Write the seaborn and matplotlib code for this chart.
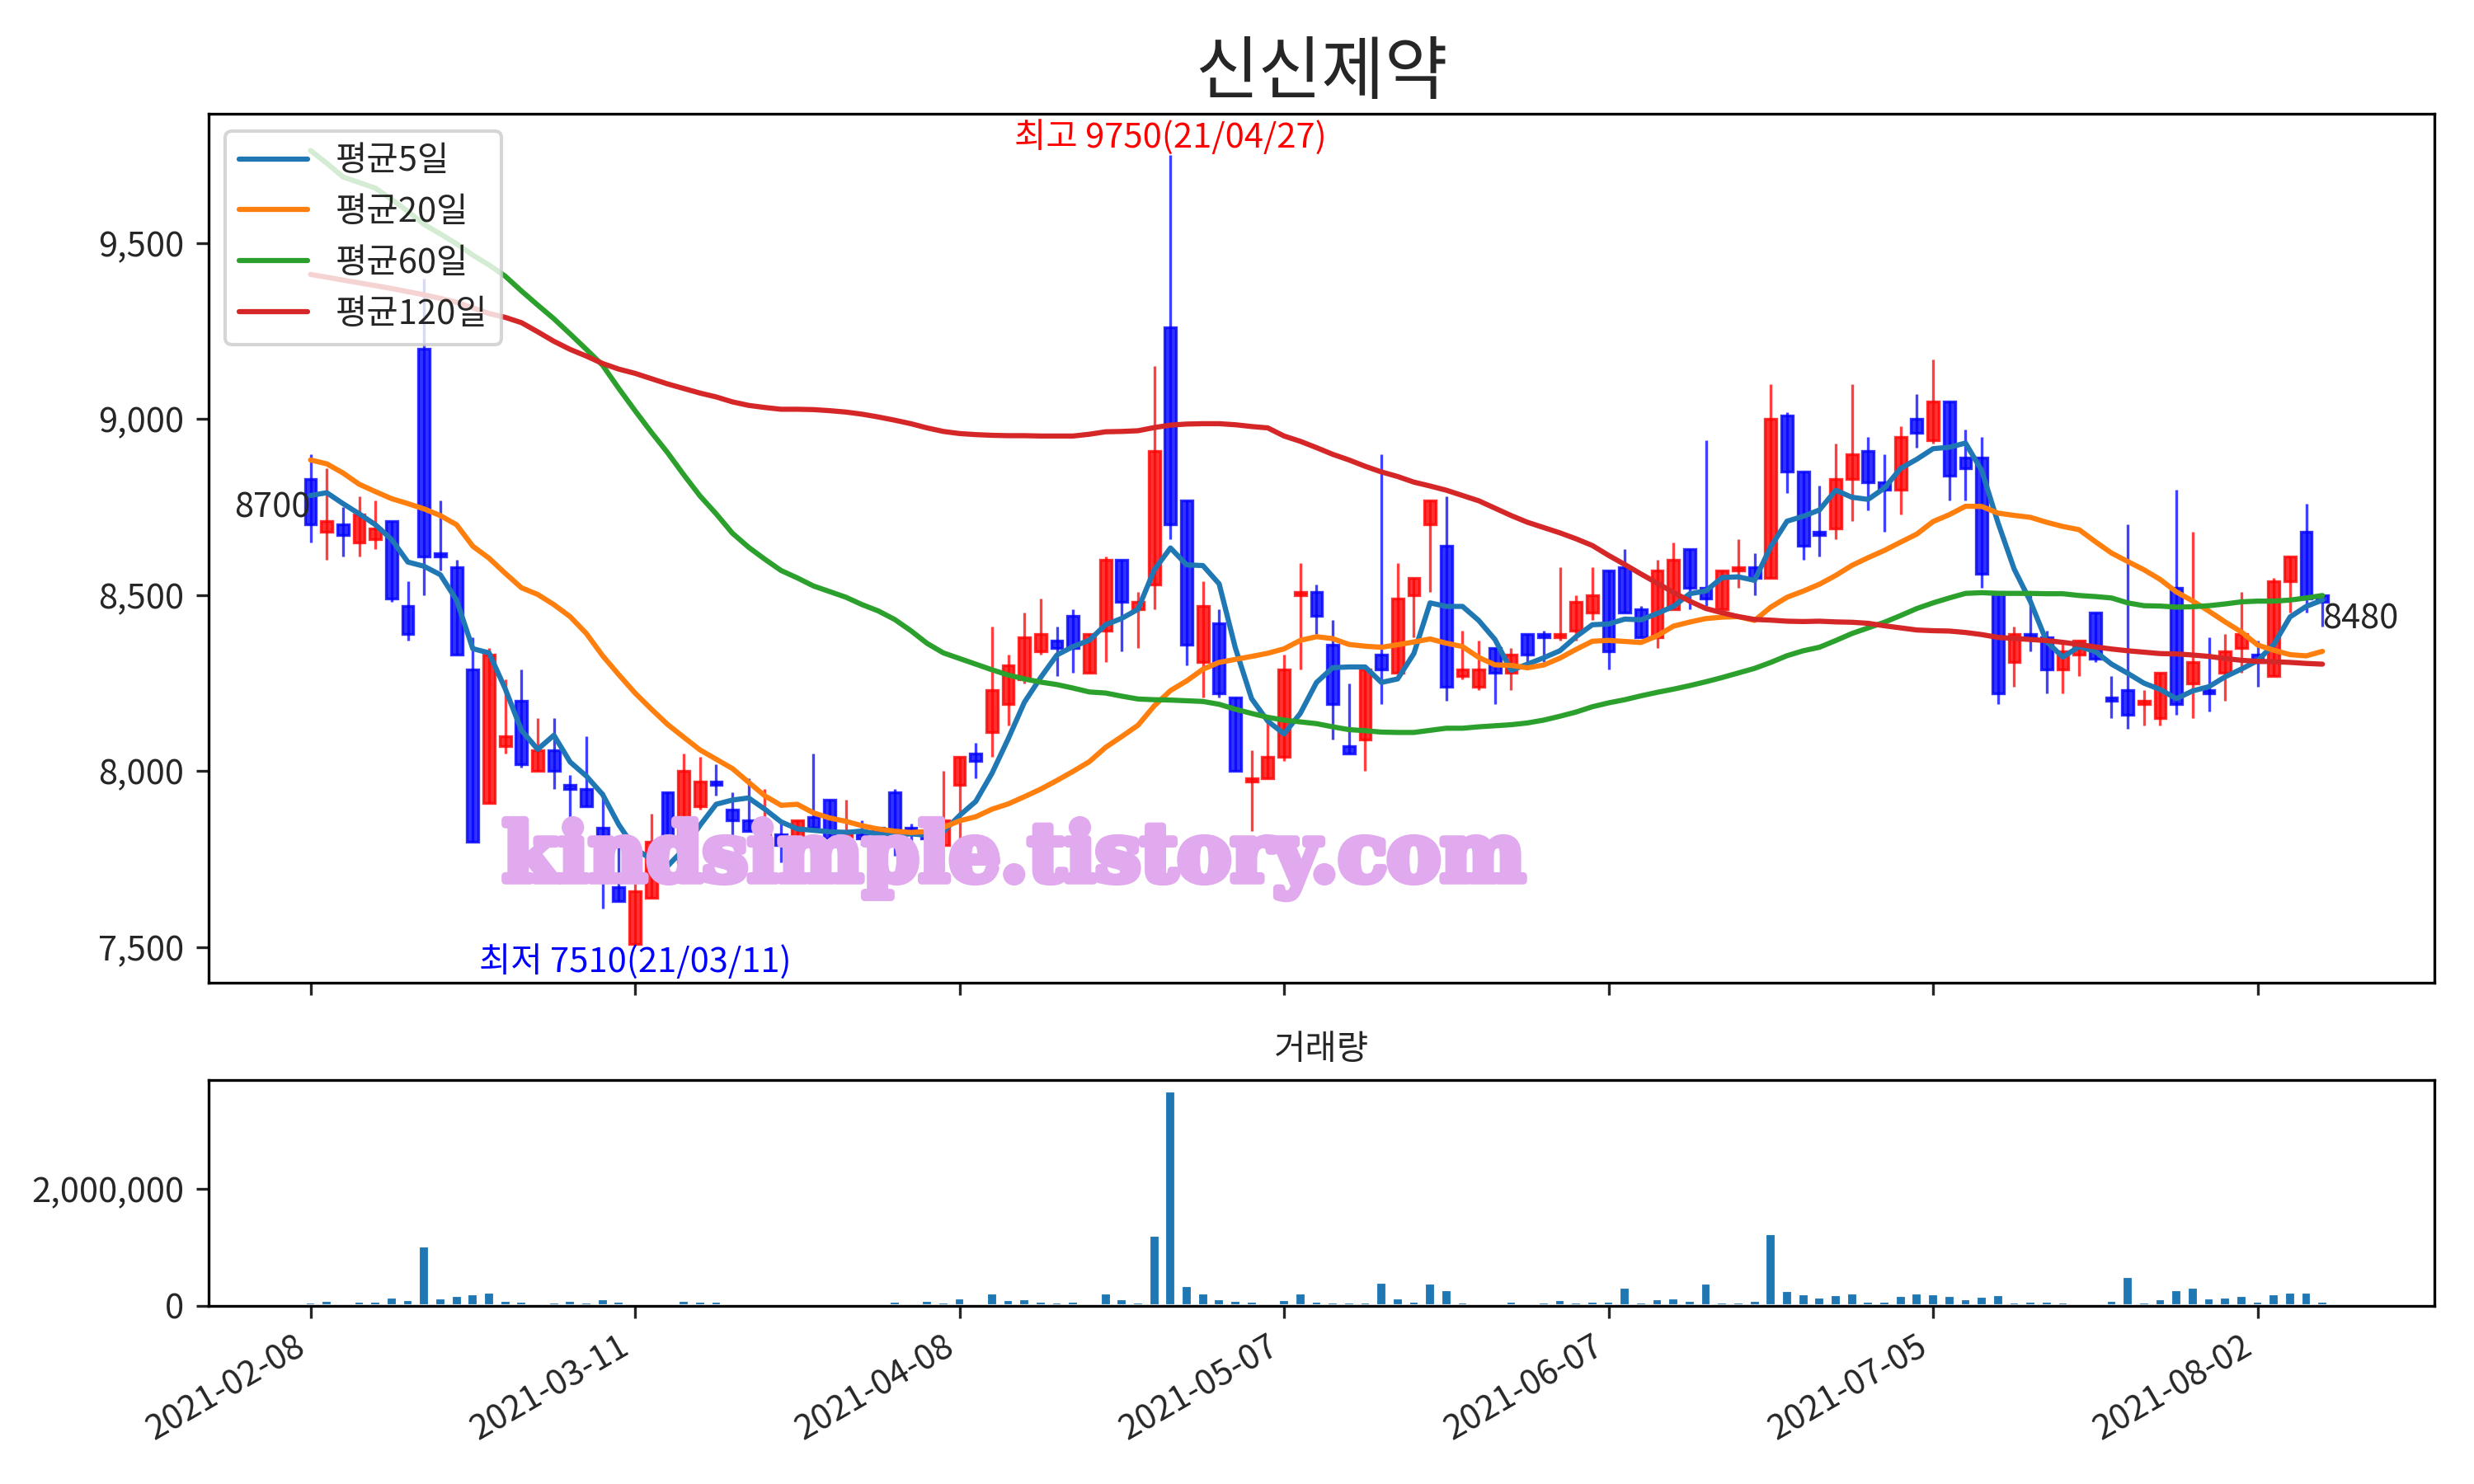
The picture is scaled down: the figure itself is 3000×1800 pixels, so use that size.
import numpy as np
import pandas as pd
import seaborn as sns
import matplotlib.pyplot as plt
import matplotlib.ticker as mticker
import matplotlib.patheffects as pe

sns.set_style('white')
plt.rcParams['font.family'] = ['Noto Sans CJK KR', 'DejaVu Sans']
plt.rcParams['axes.unicode_minus'] = False
plt.rcParams['xtick.bottom'] = True
plt.rcParams['ytick.left'] = True
plt.rcParams['axes.edgecolor'] = 'black'

name = '신신제약'

## trading days 2021-02-08 ~ 2021-08-06 (krx holidays removed)
holidays = ['2021-02-11', '2021-02-12', '2021-03-01', '2021-05-05', '2021-05-19']
dates = pd.bdate_range('2021-02-08', '2021-08-06', freq='C', holidays=holidays)

opens = [8830, 8680, 8700, 8650, 8660, 8710, 8470, 9200, 8620, 8580,
         8290, 7910, 8070, 8200, 8000, 8060, 7960, 7950, 7840, 7670,
         7510, 7640, 7940, 7740, 7900, 7970, 7890, 7860, 7810, 7820,
         7810, 7870, 7920, 7810, 7820, 7840, 7940, 7840, 7820, 7790,
         7960, 8050, 8110, 8190, 8260, 8340, 8370, 8440, 8280, 8400,
         8600, 8460, 8530, 9260, 8770, 8310, 8420, 8210, 7970, 7980,
         8040, 8500, 8510, 8360, 8070, 8090, 8330, 8280, 8500, 8700,
         8640, 8270, 8240, 8350, 8280, 8390, 8390, 8380, 8400, 8450,
         8570, 8580, 8460, 8380, 8460, 8630, 8520, 8460, 8570, 8580,
         8550, 9010, 8850, 8680, 8690, 8830, 8910, 8820, 8800, 9000,
         8940, 9050, 8890, 8890, 8510, 8310, 8390, 8380, 8290, 8330,
         8450, 8210, 8230, 8190, 8150, 8520, 8250, 8230, 8280, 8350,
         8330, 8270, 8540, 8680, 8500]
highs = [8900, 8860, 8750, 8780, 8770, 8710, 8540, 9400, 8770, 8600,
         8380, 8350, 8260, 8290, 8150, 8150, 7990, 8100, 7940, 7810,
         7680, 7880, 7940, 8050, 8040, 8020, 7940, 7980, 7950, 7860,
         7860, 8050, 7920, 7920, 7860, 7840, 7950, 7850, 7860, 8000,
         8040, 8080, 8410, 8330, 8450, 8490, 8410, 8460, 8390, 8610,
         8600, 8510, 9150, 9750, 8770, 8540, 8460, 8210, 8060, 8140,
         8330, 8590, 8530, 8430, 8250, 8290, 8900, 8590, 8550, 8770,
         8780, 8400, 8370, 8350, 8350, 8390, 8400, 8580, 8500, 8580,
         8570, 8630, 8470, 8600, 8650, 8630, 8940, 8570, 8660, 8620,
         9100, 9020, 8850, 8810, 8930, 9100, 8950, 8900, 8980, 9070,
         9170, 9050, 8970, 8950, 8510, 8410, 8500, 8400, 8370, 8370,
         8450, 8270, 8700, 8230, 8280, 8800, 8680, 8380, 8390, 8510,
         8370, 8550, 8610, 8760, 8500]
lows = [8650, 8600, 8610, 8610, 8630, 8480, 8370, 8500, 8570, 8330,
        7800, 7910, 8050, 8010, 8000, 7950, 7810, 7900, 7610, 7630,
        7510, 7640, 7800, 7740, 7890, 7930, 7800, 7830, 7800, 7740,
        7810, 7840, 7810, 7800, 7790, 7810, 7760, 7800, 7730, 7790,
        7810, 7980, 8040, 8130, 8250, 8330, 8270, 8280, 8280, 8310,
        8340, 8350, 8460, 8660, 8300, 8210, 8210, 8000, 7830, 7980,
        8030, 8290, 8390, 8090, 8050, 8000, 8190, 8280, 8380, 8510,
        8200, 8260, 8230, 8190, 8230, 8300, 8310, 8370, 8370, 8430,
        8290, 8450, 8380, 8350, 8460, 8460, 8470, 8460, 8520, 8500,
        8550, 8790, 8600, 8610, 8660, 8710, 8740, 8680, 8730, 8920,
        8930, 8770, 8770, 8520, 8190, 8240, 8340, 8220, 8220, 8270,
        8310, 8150, 8120, 8130, 8130, 8160, 8150, 8170, 8200, 8280,
        8240, 8270, 8450, 8450, 8410]
closes = [8700, 8710, 8670, 8730, 8690, 8490, 8390, 8610, 8610, 8330,
          7800, 8330, 8100, 8020, 8060, 8000, 7950, 7900, 7760, 7630,
          7660, 7800, 7800, 8000, 7970, 7960, 7860, 7830, 7840, 7790,
          7860, 7840, 7810, 7830, 7810, 7810, 7830, 7830, 7810, 7860,
          8040, 8030, 8230, 8300, 8380, 8390, 8350, 8350, 8390, 8600,
          8480, 8480, 8910, 8700, 8360, 8470, 8220, 8000, 7980, 8040,
          8290, 8510, 8440, 8190, 8050, 8290, 8290, 8490, 8550, 8770,
          8240, 8290, 8290, 8280, 8330, 8330, 8380, 8390, 8480, 8500,
          8340, 8450, 8380, 8570, 8600, 8520, 8490, 8570, 8580, 8550,
          9000, 8850, 8640, 8670, 8830, 8900, 8820, 8800, 8950, 8960,
          9050, 8840, 8860, 8560, 8220, 8390, 8380, 8290, 8340, 8370,
          8320, 8200, 8160, 8200, 8280, 8190, 8310, 8220, 8340, 8390,
          8310, 8540, 8610, 8490, 8480]
## volume in thousands of shares
volume = [74, 102, 60, 88, 88, 158, 116, 1026, 144, 186,
          214, 242, 102, 88, 60, 74, 102, 74, 130, 88,
          60, 60, 46, 102, 88, 88, 32, 46, 60, 32,
          46, 46, 46, 46, 46, 46, 88, 60, 102, 74,
          144, 60, 228, 116, 130, 88, 74, 88, 46, 228,
          130, 74, 1208, 3673, 354, 228, 130, 102, 88, 46,
          116, 228, 88, 74, 74, 74, 410, 144, 88, 396,
          284, 74, 60, 60, 88, 60, 74, 116, 74, 88,
          88, 326, 74, 130, 144, 102, 396, 74, 74, 102,
          1236, 270, 214, 158, 200, 228, 88, 88, 186, 228,
          214, 186, 130, 172, 200, 74, 88, 88, 74, 60,
          60, 102, 508, 74, 130, 284, 326, 144, 158, 186,
          88, 214, 242, 242, 83]
volume = [v * 1000 for v in volume]

## moving averages: heads need history before the window
ma5_head = [8783, 8791, 8760, 8731]
ma20_head = [8884, 8873, 8847, 8815, 8794, 8774, 8760, 8745, 8726, 8700,
             8639, 8605, 8562, 8521, 8502, 8473, 8439, 8391, 8328]
ma60 = [9763, 9727, 9688, 9672, 9656, 9624, 9590, 9553, 9526, 9498,
        9466, 9438, 9406, 9364, 9324, 9285, 9242, 9198, 9153, 9087,
        9024, 8963, 8905, 8842, 8782, 8731, 8676, 8636, 8602, 8570,
        8549, 8526, 8510, 8494, 8473, 8455, 8431, 8399, 8363, 8336,
        8320, 8304, 8288, 8273, 8262, 8253, 8246, 8236, 8225, 8222,
        8213, 8205, 8203, 8202, 8200, 8198, 8190, 8176, 8164, 8153,
        8145, 8140, 8135, 8126, 8118, 8115, 8111, 8110, 8110, 8116,
        8122, 8122, 8126, 8129, 8132, 8137, 8145, 8156, 8168, 8183,
        8194, 8203, 8214, 8224, 8233, 8243, 8254, 8266, 8279, 8292,
        8309, 8328, 8342, 8352, 8371, 8391, 8407, 8423, 8442, 8462,
        8478, 8492, 8505, 8507, 8505, 8505, 8505, 8504, 8504, 8499,
        8496, 8492, 8478, 8470, 8469, 8466, 8467, 8470, 8475, 8481,
        8483, 8483, 8486, 8492, 8499]
ma120 = [9411, 9403, 9395, 9387, 9379, 9371, 9362, 9353, 9343, 9332,
         9316, 9300, 9289, 9274, 9248, 9221, 9198, 9179, 9158, 9142,
         9130, 9115, 9100, 9087, 9074, 9063, 9049, 9039, 9033, 9028,
         9028, 9027, 9024, 9020, 9014, 9006, 8997, 8987, 8975, 8965,
         8959, 8956, 8954, 8953, 8953, 8952, 8952, 8952, 8957, 8964,
         8965, 8967, 8976, 8983, 8986, 8987, 8987, 8984, 8979, 8975,
         8952, 8937, 8919, 8900, 8884, 8866, 8850, 8837, 8821, 8810,
         8798, 8783, 8768, 8747, 8726, 8707, 8692, 8677, 8660, 8641,
         8613, 8587, 8560, 8534, 8508, 8483, 8462, 8450, 8439, 8431,
         8429, 8426, 8425, 8426, 8424, 8423, 8420, 8413, 8407, 8401,
         8399, 8398, 8394, 8388, 8380, 8377, 8374, 8371, 8366, 8360,
         8353, 8347, 8342, 8338, 8334, 8333, 8330, 8326, 8320, 8315,
         8312, 8311, 8309, 8306, 8304]

df = pd.DataFrame({'open': opens, 'high': highs, 'low': lows, 'close': closes,
                   'volume': volume}, index=dates)
df['ma5'] = df['close'].rolling(5).mean()
df.iloc[:len(ma5_head), df.columns.get_loc('ma5')] = ma5_head
df['ma20'] = df['close'].rolling(20).mean()
df.iloc[:len(ma20_head), df.columns.get_loc('ma20')] = ma20_head
df['ma60'] = ma60
df['ma120'] = ma120
x = np.arange(len(df))

fig = plt.figure(figsize=(10, 6), dpi=300)
ax1 = fig.add_axes([0.0842, 0.338, 0.8998, 0.5855])
ax2 = fig.add_axes([0.0842, 0.120, 0.8998, 0.152], sharex=ax1)

##candles (red up / blue down)
up = df['close'] >= df['open']
colors = np.where(up, 'red', 'blue')
body_lo = np.minimum(df['open'], df['close'])
body_h = (df['close'] - df['open']).abs()
ax1.vlines(x, df['low'], df['high'], colors=colors, lw=0.8, alpha=0.75, zorder=3)
ax1.bar(x, body_h, bottom=body_lo, width=0.7, color=colors, edgecolor=colors,
        linewidth=0.8, alpha=0.8, zorder=3)

##moving average lines
ma_cols = ['ma5', 'ma20', 'ma60', 'ma120']
ma_labels = ['평균5일', '평균20일', '평균60일', '평균120일']
ma_colors = ['tab:blue', 'tab:orange', 'tab:green', 'tab:red']
for col, lab, c in zip(ma_cols, ma_labels, ma_colors):
    sns.lineplot(x=x, y=df[col].values, ax=ax1, color=c, label=lab, lw=1.5, zorder=4)
ax1.legend(loc='upper left', fontsize=10)

##high / low / first / last marks
hi = int(df['high'].values.argmax())
lo = int(df['low'].values.argmin())
ax1.text(hi, df['high'].iloc[hi], '최고 %d(%s)' % (df['high'].iloc[hi], dates[hi].strftime('%y/%m/%d')),
         color='red', ha='center', va='bottom', fontsize=10)
ax1.text(lo, df['low'].iloc[lo], '최저 %d(%s)' % (df['low'].iloc[lo], dates[lo].strftime('%y/%m/%d')),
         color='blue', ha='center', va='top', fontsize=10)
ax1.text(0, df['close'].iloc[0], '%d' % df['close'].iloc[0], ha='right', va='bottom', fontsize=10)
ax1.text(x[-1], df['close'].iloc[-1], '%d' % df['close'].iloc[-1], ha='left', va='top', fontsize=10)

ax1.set_title(name, fontsize=20)
ax1.set_ylim(7400, 9868)
ax1.yaxis.set_major_formatter(mticker.StrMethodFormatter('{x:,.0f}'))
ax1.tick_params(labelbottom=False)

##watermark
fig.text(0.41, 0.421, 'kindsimple.tistory.com', fontsize=23.3, fontweight='heavy',
         family='DejaVu Serif', color='#e2aaee', ha='center', va='center', zorder=3.5,
         path_effects=[pe.withStroke(linewidth=2.2, foreground='#e2aaee')])

##volume
ax2.bar(x, df['volume'], width=0.7, color='tab:blue')
ax2.set_title('거래량', fontsize=10)
ax2.yaxis.set_major_formatter(mticker.StrMethodFormatter('{x:,.0f}'))
ticks = x[::20]
ax2.set_xticks(ticks)
ax2.set_xticklabels([d.strftime('%Y-%m-%d') for d in dates[ticks]], rotation=30, ha='right')
ax2.set_xlim(-6.3, 130.9)

for ax in (ax1, ax2):
    for s in ax.spines.values():
        s.set_color('black')
        s.set_linewidth(0.8)

fig.savefig('out.png', dpi=300)
